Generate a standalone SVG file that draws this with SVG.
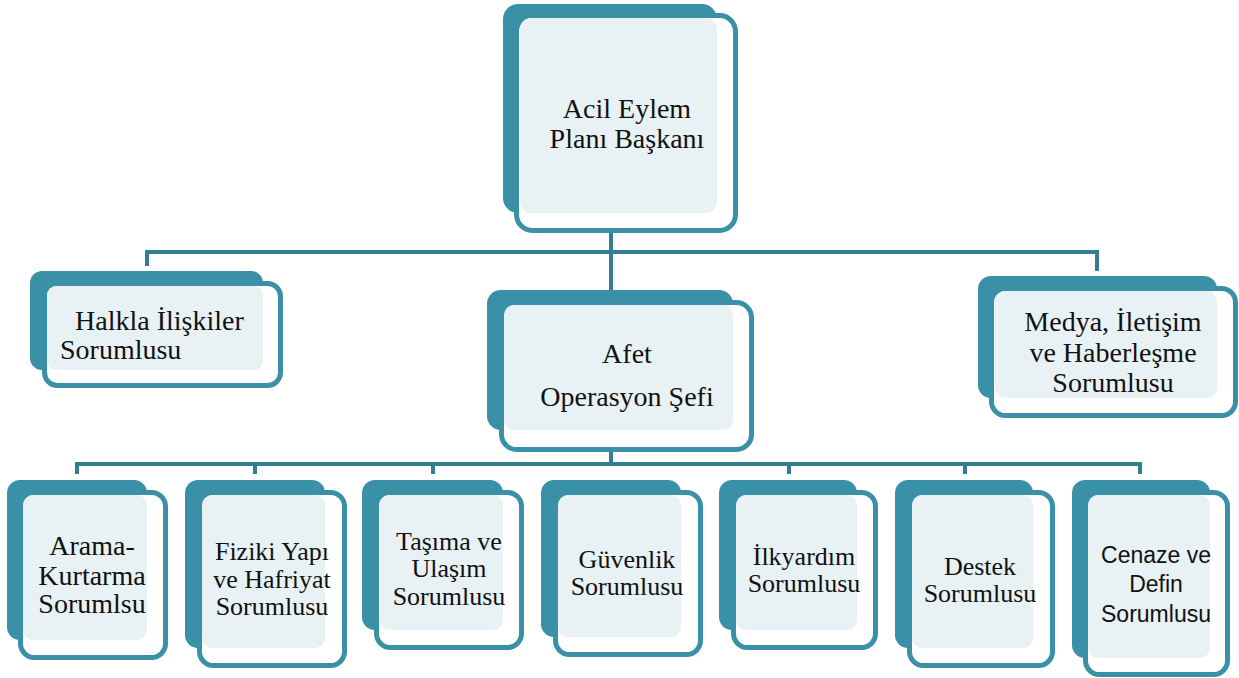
<svg xmlns="http://www.w3.org/2000/svg" width="1239" height="678" viewBox="0 0 1239 678">
<style>
.bk{fill:#3a90a7}
.fr{fill:#ffffff;stroke:#3a90a7;stroke-width:5}
.lt{fill:#e8f1f4}
.cn{stroke:#327f92;stroke-width:4;fill:none}
.t{font-family:"Liberation Serif","Times New Roman",serif;font-size:28px;fill:#111;text-anchor:middle}
.s{font-size:26px}
.c{font-family:"Liberation Sans",Arial,sans-serif;font-size:23px;fill:#111;text-anchor:middle}
</style>
<rect width="1239" height="678" fill="#ffffff"/>
<g id="connectors">
<path class="cn" d="M611 233V290M147 266V252H1097V271"/>
<path class="cn" d="M611 452V464M77 474V464H1140V474M255 464V474M433 464V474M789 464V474M965 464V474"/>
</g>
<g id="n-baskan">
<rect class="bk" x="503" y="4" width="214" height="209" rx="15"/>
<rect class="fr" x="516.5" y="15.5" width="219" height="215" rx="16"/>
<rect class="lt" x="520" y="18" width="197" height="195" rx="11"/>
<text class="t" x="627" y="118">Acil Eylem</text>
<text class="t" x="627" y="148">Planı Başkanı</text>
</g>
<g id="n-halkla">
<rect class="bk" x="30" y="271" width="233" height="99" rx="12"/>
<rect class="fr" x="44.5" y="283.5" width="236" height="102" rx="13"/>
<rect class="lt" x="47" y="286" width="216" height="84" rx="9"/>
<text class="t" x="75" y="330" style="text-anchor:start">Halkla İlişkiler</text>
<text class="t" x="60" y="359" style="text-anchor:start">Sorumlusu</text>
</g>
<g id="n-afet">
<rect class="bk" x="487" y="290" width="246" height="140" rx="14"/>
<rect class="fr" x="501.5" y="302.5" width="250" height="147" rx="15"/>
<rect class="lt" x="504" y="305" width="229" height="125" rx="10"/>
<text class="t" x="627" y="363">Afet</text>
<text class="t" x="627" y="406">Operasyon Şefi</text>
</g>
<g id="n-medya">
<rect class="bk" x="978" y="276" width="239" height="122" rx="13"/>
<rect class="fr" x="991.5" y="288.5" width="244" height="127" rx="14"/>
<rect class="lt" x="995" y="291" width="222" height="107" rx="10"/>
<text class="t" x="1113" y="331">Medya, İletişim</text>
<text class="t" x="1113" y="362">ve Haberleşme</text>
<text class="t" x="1113" y="392">Sorumlusu</text>
</g>
<g id="n-arama">
<rect class="bk" x="7" y="480" width="140" height="160" rx="13"/>
<rect class="fr" x="20.5" y="492.5" width="145" height="165" rx="14"/>
<rect class="lt" x="23" y="495" width="124" height="145" rx="10"/>
<text class="t" x="92" y="555">Arama-</text>
<text class="t" x="92" y="585">Kurtarma</text>
<text class="t" x="92" y="613">Sorumlsu</text>
</g>
<g id="n-fiziki">
<rect class="bk" x="185" y="480" width="140" height="168" rx="13"/>
<rect class="fr" x="199.5" y="492.5" width="145" height="173" rx="14"/>
<rect class="lt" x="202" y="495" width="123" height="153" rx="10"/>
<text class="t s" x="272" y="560">Fiziki Yapı</text>
<text class="t s" x="272" y="588">ve Hafriyat</text>
<text class="t s" x="272" y="615">Sorumlusu</text>
</g>
<g id="n-tasima">
<rect class="bk" x="362" y="480" width="141" height="150" rx="13"/>
<rect class="fr" x="376.5" y="492.5" width="145" height="155" rx="14"/>
<rect class="lt" x="379" y="495" width="124" height="135" rx="10"/>
<text class="t s" x="449" y="550">Taşıma ve</text>
<text class="t s" x="449" y="577">Ulaşım</text>
<text class="t s" x="449" y="605">Sorumlusu</text>
</g>
<g id="n-guvenlik">
<rect class="bk" x="541" y="480" width="140" height="157" rx="13"/>
<rect class="fr" x="555.5" y="492.5" width="145" height="162" rx="14"/>
<rect class="lt" x="558" y="495" width="123" height="142" rx="10"/>
<text class="t s" x="627" y="568">Güvenlik</text>
<text class="t s" x="627" y="595">Sorumlusu</text>
</g>
<g id="n-ilkyardim">
<rect class="bk" x="719" y="480" width="138" height="150" rx="13"/>
<rect class="fr" x="733.5" y="492.5" width="142" height="155" rx="14"/>
<rect class="lt" x="736" y="495" width="121" height="135" rx="10"/>
<text class="t s" x="804" y="565">İlkyardım</text>
<text class="t s" x="804" y="592">Sorumlusu</text>
</g>
<g id="n-destek">
<rect class="bk" x="895" y="480" width="138" height="168" rx="13"/>
<rect class="fr" x="909.5" y="492.5" width="143" height="173" rx="14"/>
<rect class="lt" x="912" y="495" width="121" height="153" rx="10"/>
<text class="t s" x="980" y="575">Destek</text>
<text class="t s" x="980" y="602">Sorumlusu</text>
</g>
<g id="n-cenaze">
<rect class="bk" x="1072" y="480" width="138" height="178" rx="13"/>
<rect class="fr" x="1085.5" y="492.5" width="142" height="182" rx="14"/>
<rect class="lt" x="1088" y="495" width="122" height="163" rx="10"/>
<text class="c" x="1156" y="563">Cenaze ve</text>
<text class="c" x="1156" y="592">Defin</text>
<text class="c" x="1156" y="622">Sorumlusu</text>
</g>
</svg>
